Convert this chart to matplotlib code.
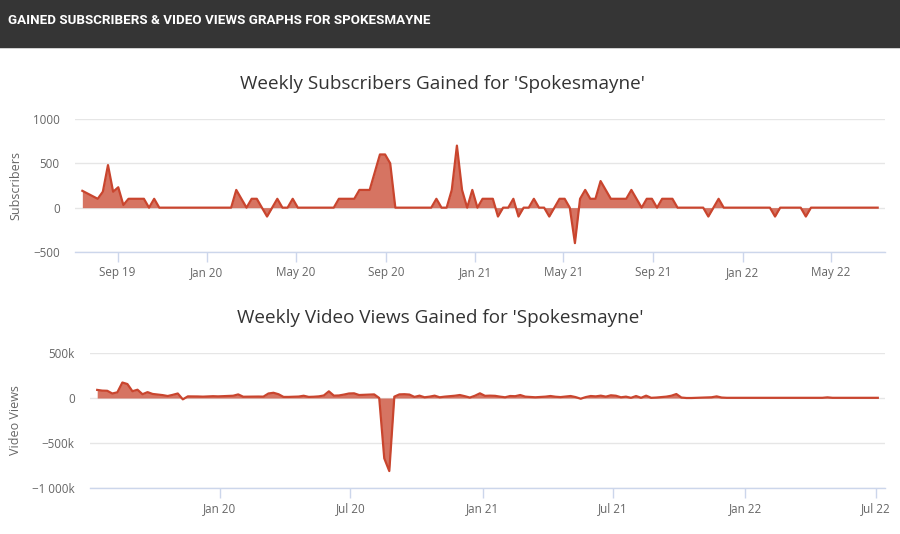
import datetime as dt
import numpy as np
import matplotlib
matplotlib.use('Agg')
import matplotlib.pyplot as plt
import matplotlib.dates as mdates
from matplotlib.patches import Rectangle
from matplotlib.ticker import FuncFormatter

channel = 'Spokesmayne'
start = dt.date(2019, 7, 15)

# weekly subscribers gained
subs = [190, 160, 130, 100, 180, 480, 180, 230, 30, 100,
        100, 100, 100, 0, 100, 0, 0, 0, 0, 0,
        0, 0, 0, 0, 0, 0, 0, 0, 0, 0,
        200, 100, 0, 100, 100, 0, -100, 0, 100, 0,
        0, 100, 0, 0, 0, 0, 0, 0, 0, 0,
        100, 100, 100, 100, 200, 200, 200, 400, 600, 600,
        500, 0, 0, 0, 0, 0, 0, 0, 0, 100,
        0, 0, 200, 700, 200, 0, 200, 0, 100, 100,
        100, -100, 0, 0, 100, -100, 0, 0, 100, 0,
        0, -100, 0, 100, 100, 0, -400, 100, 200, 100,
        100, 300, 200, 100, 100, 100, 100, 200, 100, 0,
        100, 100, 0, 100, 100, 100, 0, 0, 0, 0,
        0, 0, -100, 0, 100, 0, 0, 0, 0, 0,
        0, 0, 0, 0, 0, -100, 0, 0, 0, 0,
        0, -100, 0, 0, 0, 0, 0, 0, 0, 0,
        0, 0, 0, 0, 0, 0]

# weekly video views gained, in thousands
views_k = [90, 82, 80, 50, 63, 172, 155, 75, 92, 42,
           65, 45, 38, 32, 22, 35, 50, -15, 18, 18,
           17, 15, 18, 20, 18, 20, 22, 25, 40, 14,
           15, 15, 16, 15, 50, 58, 42, 12, 12, 14,
           16, 25, 12, 14, 18, 28, 74, 26, 28, 38,
           50, 52, 33, 35, 36, 40, 0, -670, -812, 15,
           40, 42, 38, 12, 26, 8, 15, 26, 8, 15,
           20, 25, 33, 20, 5, 25, 52, 24, 26, 24,
           15, 8, 22, 20, 33, 15, 12, 8, 12, 15,
           22, 14, 10, 16, 22, 10, -8, 10, 22, 18,
           26, 15, 30, 25, 8, 15, 2, 22, 2, 26,
           2, 5, 10, 15, 25, 44, 5, 0, 0, 2,
           3, 5, 8, 18, 5, 2, 2, 2, 2, 2,
           2, 2, 2, 2, 2, 2, 2, 2, 2, 2,
           2, 2, 2, 2, 2, 7, 2, 2, 2, 2,
           2, 2, 2, 2, 2, 2]

weeks = [start + dt.timedelta(weeks=i) for i in range(len(subs))]
views = np.array(views_k) * 1000

sub_ticks = ['2019-09-01', '2020-01-01', '2020-05-01', '2020-09-01', '2021-01-01',
             '2021-05-01', '2021-09-01', '2022-01-01', '2022-05-01']
view_ticks = ['2020-01-01', '2020-07-01', '2021-01-01', '2021-07-01',
              '2022-01-01', '2022-07-01']
x_range = (dt.date(2019, 7, 5), dt.date(2022, 7, 14))

LINE = '#c9452e'
GRID = '#e6e6e6'
AXIS = '#ccd6eb'
TEXT = '#666666'

plt.rcParams['font.family'] = ['Open Sans', 'DejaVu Sans']

fig = plt.figure(figsize=(9, 5.34), dpi=100)
fig.patch.set_facecolor('white')

# dark header bar
fig.add_artist(Rectangle((0, 1 - 48 / 534), 1, 48 / 534, transform=fig.transFigure,
                         facecolor='#353535', edgecolor='none'))
fig.add_artist(Rectangle((0, 1 - 49 / 534), 1, 1 / 534, transform=fig.transFigure,
                         facecolor='#cfcfcf', edgecolor='none'))
fig.text(8 / 900, 1 - 21 / 534, f'GAINED SUBSCRIBERS & VIDEO VIEWS GRAPHS FOR {channel.upper()}',
         color='white', fontsize=9.6, fontweight='bold', family='Roboto', va='center')


def style_axes(ax, ticks, ylabel):
    ax.set_xlim(*x_range)
    ax.set_xticks([mdates.datestr2num(t) for t in ticks])
    ax.xaxis.set_major_formatter(mdates.DateFormatter('%b %y'))
    ax.grid(axis='y', color=GRID, linewidth=1)
    ax.set_axisbelow(True)
    for side in ('top', 'right', 'left'):
        ax.spines[side].set_visible(False)
    ax.spines['bottom'].set_color(AXIS)
    ax.spines['bottom'].set_linewidth(1)
    ax.tick_params(axis='x', colors=AXIS, length=7, width=1, pad=3, labelcolor=TEXT, labelsize=8.4)
    ax.tick_params(axis='y', length=0, pad=11, labelcolor=TEXT, labelsize=8.4)
    ax.set_ylabel(ylabel, color=TEXT, fontsize=9)


# subscribers
ax1 = fig.add_axes([75 / 900, 1 - 252 / 534, 810 / 900, 133 / 534])
ax1.fill_between(weeks, subs, 0, color=LINE, alpha=0.75, linewidth=0)
ax1.plot(weeks, subs, color=LINE, linewidth=1.6)
ax1.set_ylim(-500, 1000)
ax1.set_yticks([-500, 0, 500, 1000])
ax1.yaxis.set_major_formatter(FuncFormatter(lambda v, p: f'{v:.0f}'.replace('-', '\u2212')))
style_axes(ax1, sub_ticks, 'Subscribers')
ax1.yaxis.set_label_coords(-53 / 810, 0.5)
fig.text(442 / 900, 1 - 84 / 534, f"Weekly Subscribers Gained for '{channel}'",
         ha='center', va='center', fontsize=13.6, color='#333333')

# video views
ax2 = fig.add_axes([90 / 900, 1 - 488 / 534, 795 / 900, 135 / 534])
ax2.fill_between(weeks, views, 0, color=LINE, alpha=0.75, linewidth=0)
ax2.plot(weeks, views, color=LINE, linewidth=1.6)
ax2.set_ylim(-1000000, 500000)
ax2.set_yticks([-1000000, -500000, 0, 500000])


def fmt_views(v, p):
    if v == 0:
        return '0'
    k = int(round(v / 1000))
    s = f'{abs(k):,}'.replace(',', ' ') + 'k'
    return ('\u2212' if k < 0 else '') + s


ax2.yaxis.set_major_formatter(FuncFormatter(fmt_views))
style_axes(ax2, view_ticks, 'Video Views')
ax2.yaxis.set_label_coords(-68 / 795, 0.5)
fig.text(440 / 900, 1 - 318 / 534, f"Weekly Video Views Gained for '{channel}'",
         ha='center', va='center', fontsize=13.6, color='#333333')

fig.savefig('out.png', dpi=100, facecolor='white')
